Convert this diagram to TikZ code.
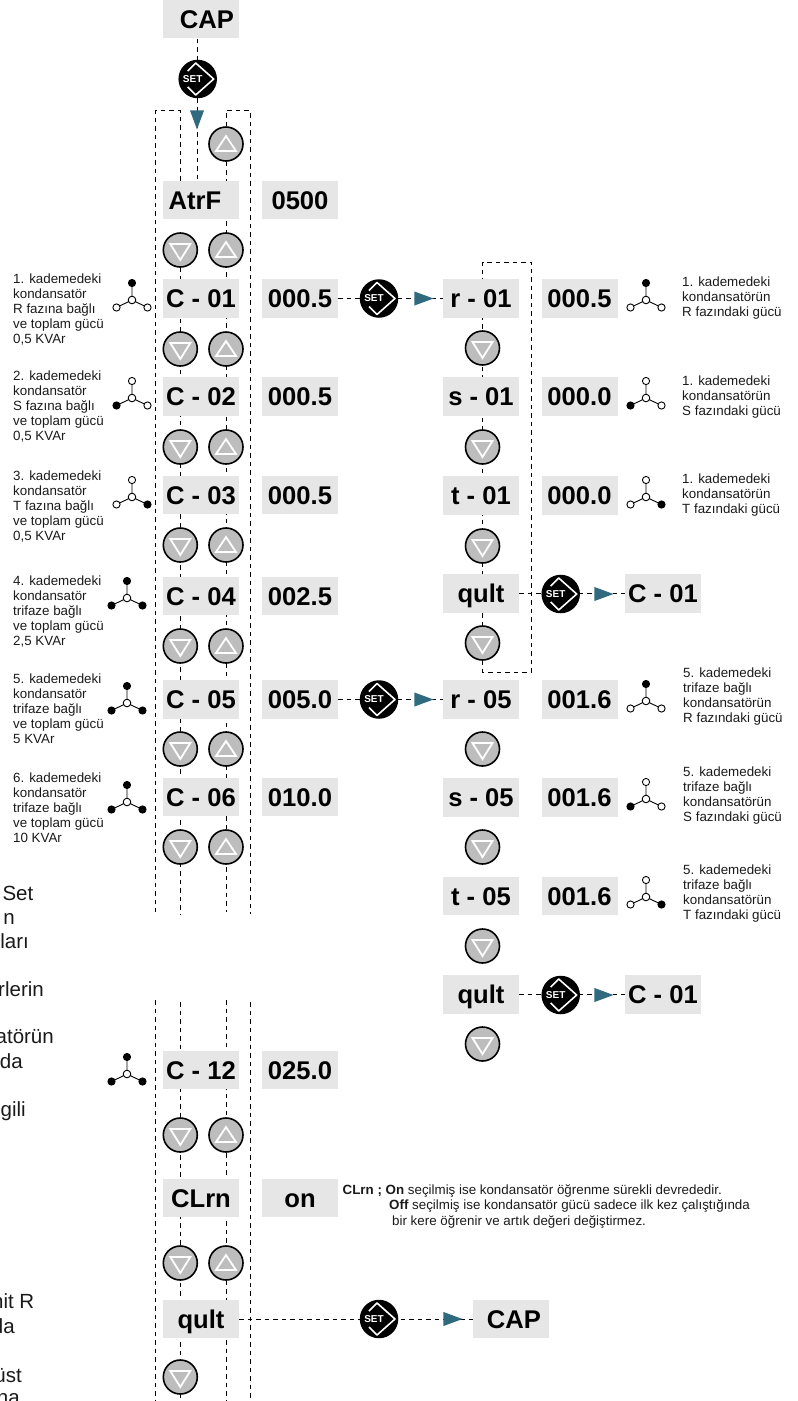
\documentclass[tikz,border=0pt]{standalone}
\usepackage{fontspec}
\setmainfont{Liberation Sans}
\usetikzlibrary{positioning,backgrounds,shapes.geometric}
\definecolor{panel}{HTML}{E6E6E6}
\definecolor{btngray}{HTML}{BDBDBD}
\definecolor{headteal}{HTML}{2F6A7E}
\definecolor{notegray}{HTML}{1A1A1A}
\tikzset{
  lcd/.style={fill=panel, minimum width=76, minimum height=38.5, inner sep=0, text height=18.4pt, text depth=0pt, font=\fontsize{25.6}{28}\selectfont\bfseries},
  dnbtn/.style={circle, draw=black, line width=1.6, fill=btngray, minimum size=34, inner sep=0,
    path picture={\draw[white, line width=1.8, shift={(path picture bounding box.center)}] (-10,-6) -- (10,-6) -- (0,10) -- cycle;}},
  upbtn/.style={circle, draw=black, line width=1.6, fill=btngray, minimum size=34, inner sep=0,
    path picture={\draw[white, line width=1.8, shift={(path picture bounding box.center)}] (-10,7) -- (10,7) -- (0,-8) -- cycle;}},
  setbtn/.style={circle, fill=black, minimum size=38.5, inner sep=0, text=white, font=\fontsize{10}{12}\selectfont\bfseries},
  setmark/.style={draw=white, line width=1.6, line join=round},
  head/.style={isosceles triangle, isosceles triangle stretches, fill=headteal, minimum width=14, minimum height=19, inner sep=0, anchor=apex},
  link/.style={draw=black, line width=0.9, dash pattern=on 4.5pt off 4pt},
  note/.style={anchor=north west, align=left, inner sep=0, text=notegray, font=\fontsize{13.35}{15}\selectfont},
  cutnote/.style={anchor=base east, inner sep=0, text=notegray, font=\fontsize{20.5}{24}\selectfont},
  arm/.style={draw=black, line width=0.9},
}
\begin{document}
\begin{tikzpicture}[x=1pt, y=-1pt]
\useasboundingbox (0,0) rectangle (798,1401);
% main column
\node[lcd] (cap0) at (201,19.2) {\hspace*{12pt}CAP};
\foreach \n/\t/\y in {atrf/AtrF\hspace*{12pt}/200, c01/C - 01/298.5, c02/C - 02/396.5, c03/C - 03/495, c04/C - 04/596, c05/C - 05/699.5, c06/C - 06/797, c12/C - 12/1070, clrn/CLrn/1198, qult0/qult/1319}
  \node[lcd] (\n) at (201,\y) {\t};
\foreach \n/\t/\y in {v0/0500/200, v1/000.5/298.5, v2/000.5/396.5, v3/000.5/495, v4/002.5/596, v5/005.0/699.5, v6/010.0/797, v12/025.0/1070, von/on/1198}
  \node[lcd] (\n) at (300,\y) {\t};
\foreach \n/\y in {1/250, 2/349, 3/447, 4/545, 5/646, 6/749, 7/847, 8/1135, 9/1263, 10/1377}
  \node[dnbtn] (dn\n) at (180.3,\y) {};
\foreach \n/\y in {0/144, 1/250, 2/349, 3/447, 4/545, 5/646, 6/749, 7/847, 8/1135, 9/1263}
  \node[upbtn] (up\n) at (226,\y) {};
% second column
\foreach \n/\t/\y in {r01/r - 01/298.5, s01/s - 01/396.5, t01/t - 01/495.5, qult1/qult/593.5, r05/r - 05/699.5, s05/s - 05/797.5, t05/t - 05/896, qult2/qult/994.5}
  \node[lcd] (\n) at (481,\y) {\t};
\foreach \n/\t/\y in {w1/000.5/298.5, w2/000.0/396.5, w3/000.0/495.5, w5/001.6/699.5, w6/001.6/797.5, w7/001.6/896}
  \node[lcd] (\n) at (579.5,\y) {\t};
\foreach \n/\y in {1/348, 2/447, 3/546, 4/643, 5/749, 6/847, 7/946, 8/1044}
  \node[dnbtn] (dr\n) at (482.5,\y) {};
\node[lcd] (back1) at (663,593.5) {C - 01};
\node[lcd] (back2) at (663,994.5) {C - 01};
\node[lcd] (cap1) at (511,1319) {\hspace*{6pt}CAP};
% set keys and heads
\foreach \n/\x/\y in {s0/197.7/79, s1/379/298.5, s2/379/699.5, s3/560.7/594, s4/560.7/995, s5/379/1319}{
  \node[setbtn] (\n) at (\x,\y) {SET\hspace*{10pt}};
  \draw[setmark, shift={(\n.center)}] (-10,-8) -- (-2,-16) -- (16,0) -- (-2,16) -- (-10,8);
}
\foreach \n/\x/\y in {h1/434/298.5, h2/434/699.5, h3/614/594, h4/614/995, h5/463/1319}
  \node[head] (\n) at (\x,\y) {};
\node[head, shape border rotate=270] (h0) at (197,130) {};
% dashed runs
\coordinate (tl) at (155.5,110.5);
\coordinate (tr) at (250,110.5);
\coordinate (bl) at (155.5,912);
\coordinate (br) at (250,914);
\coordinate (cl) at (155.5,1000);
\coordinate (cr) at (250,1002);
\coordinate (end) at (0,1401);
\coordinate (rt) at (531.5,262);
\coordinate (rb) at (531.5,672);
\begin{scope}[on background layer]
\draw[link] (s0 |- cap0.south) -- (s0 |- atrf.north);
\draw[link] (dn1 |- atrf.north) -- (dn1 |- tl) -- (tl) -- (bl);
\draw[link] (up0) -- (up0 |- tr) -- (tr) -- (br);
\draw[link] (dn1) -- (dn1 |- br);
\draw[link] (up0) -- (up0 |- bl);
\draw[link] (cl) -- (cl |- end);
\draw[link] (cr) -- (cr |- end);
\draw[link] (dn1 |- cr) -- (dn1 |- end);
\draw[link] (up0 |- cl) -- (up0 |- end);
\draw[link] (v1) -- (r01);
\draw[link] (v5) -- (r05);
\draw[link] (qult1) -- (back1);
\draw[link] (qult2) -- (back2);
\draw[link] (qult0) -- (cap1);
\draw[link] (dr1 |- r01) -- (dr4) -- (dr4 |- rb) -- (rb) -- (rt) -- (dr1 |- rt) -- (dr1 |- r01);
\end{scope}
% phase symbols
\foreach \x/\y/\a/\b/\c in {132/300/black/white/white, 132/398/white/black/white, 132/497/white/white/black, 127/598/black/black/black, 127/703/black/black/black, 127/802/black/black/black, 127/1074/black/black/black, 646/300/black/white/white, 646/398/white/black/white, 646/497/white/white/black, 646/701/black/white/white, 646/799/white/black/white, 646/897/white/white/black}{
  \draw[arm] (\x,\y) -- (\x,\y-17) (\x,\y) -- (\x-15.5,\y+7.5) (\x,\y) -- (\x+15.5,\y+7.5);
  \filldraw[arm, fill=white] (\x,\y) circle[radius=3.8];
  \filldraw[arm, fill=\a] (\x,\y-17) circle[radius=3.6];
  \filldraw[arm, fill=\b] (\x-15.5,\y+7.5) circle[radius=3.6];
  \filldraw[arm, fill=\c] (\x+15.5,\y+7.5) circle[radius=3.6];
}
% notes
\node[note] (n1) at (13,274) {1. kademedeki\\kondansatör\\R fazına bağlı\\ve toplam gücü\\0,5 KVAr};
\node[note] (n2) at (13,371) {2. kademedeki\\kondansatör\\S fazına bağlı\\ve toplam gücü\\0,5 KVAr};
\node[note] (n3) at (13,470.5) {3. kademedeki\\kondansatör\\T fazına bağlı\\ve toplam gücü\\0,5 KVAr};
\node[note] (n4) at (13,576) {4. kademedeki\\kondansatör\\trifaze bağlı\\ve toplam gücü\\2,5 KVAr};
\node[note] (n5) at (13,674) {5. kademedeki\\kondansatör\\trifaze bağlı\\ve toplam gücü\\5 KVAr};
\node[note] (n6) at (13,772.5) {6. kademedeki\\kondansatör\\trifaze bağlı\\ve toplam gücü\\10 KVAr};
\node[note] (m1) at (682,276.5) {1. kademedeki\\kondansatörün\\R fazındaki gücü};
\node[note] (m2) at (682,375.5) {1. kademedeki\\kondansatörün\\S fazındaki gücü};
\node[note] (m3) at (682,474) {1. kademedeki\\kondansatörün\\T fazındaki gücü};
\node[note] (m4) at (683,668) {5. kademedeki\\trifaze bağlı\\kondansatörün\\R fazındaki gücü};
\node[note] (m5) at (683,766.5) {5. kademedeki\\trifaze bağlı\\kondansatörün\\S fazındaki gücü};
\node[note] (m6) at (683,864.5) {5. kademedeki\\trifaze bağlı\\kondansatörün\\T fazındaki gücü};
\foreach \r/\y/\t [count=\i] in {33.5/900/Set, 15/924/n, 29/948/ları, 44/996/rlerin, 54/1043/atörün, 23/1068/da, 26/1116/gili, 34.5/1308/nit R, 15/1333/da, 22/1382/üst, 20/1404/na}
  \node[cutnote] (cut\i) at (\r,\y) {\t};
\node[note, font=\fontsize{13.35}{15.5}\selectfont] (clrnnote) at (342.5,1184) {\textbf{CLrn ; On} seçilmiş ise kondansatör öğrenme sürekli devrededir.\\\hspace*{46.5pt}\textbf{Off} seçilmiş ise kondansatör gücü sadece ilk kez çalıştığında\\\hspace*{49.5pt}bir kere öğrenir ve artık değeri değiştirmez.};
\end{tikzpicture}
\end{document}
